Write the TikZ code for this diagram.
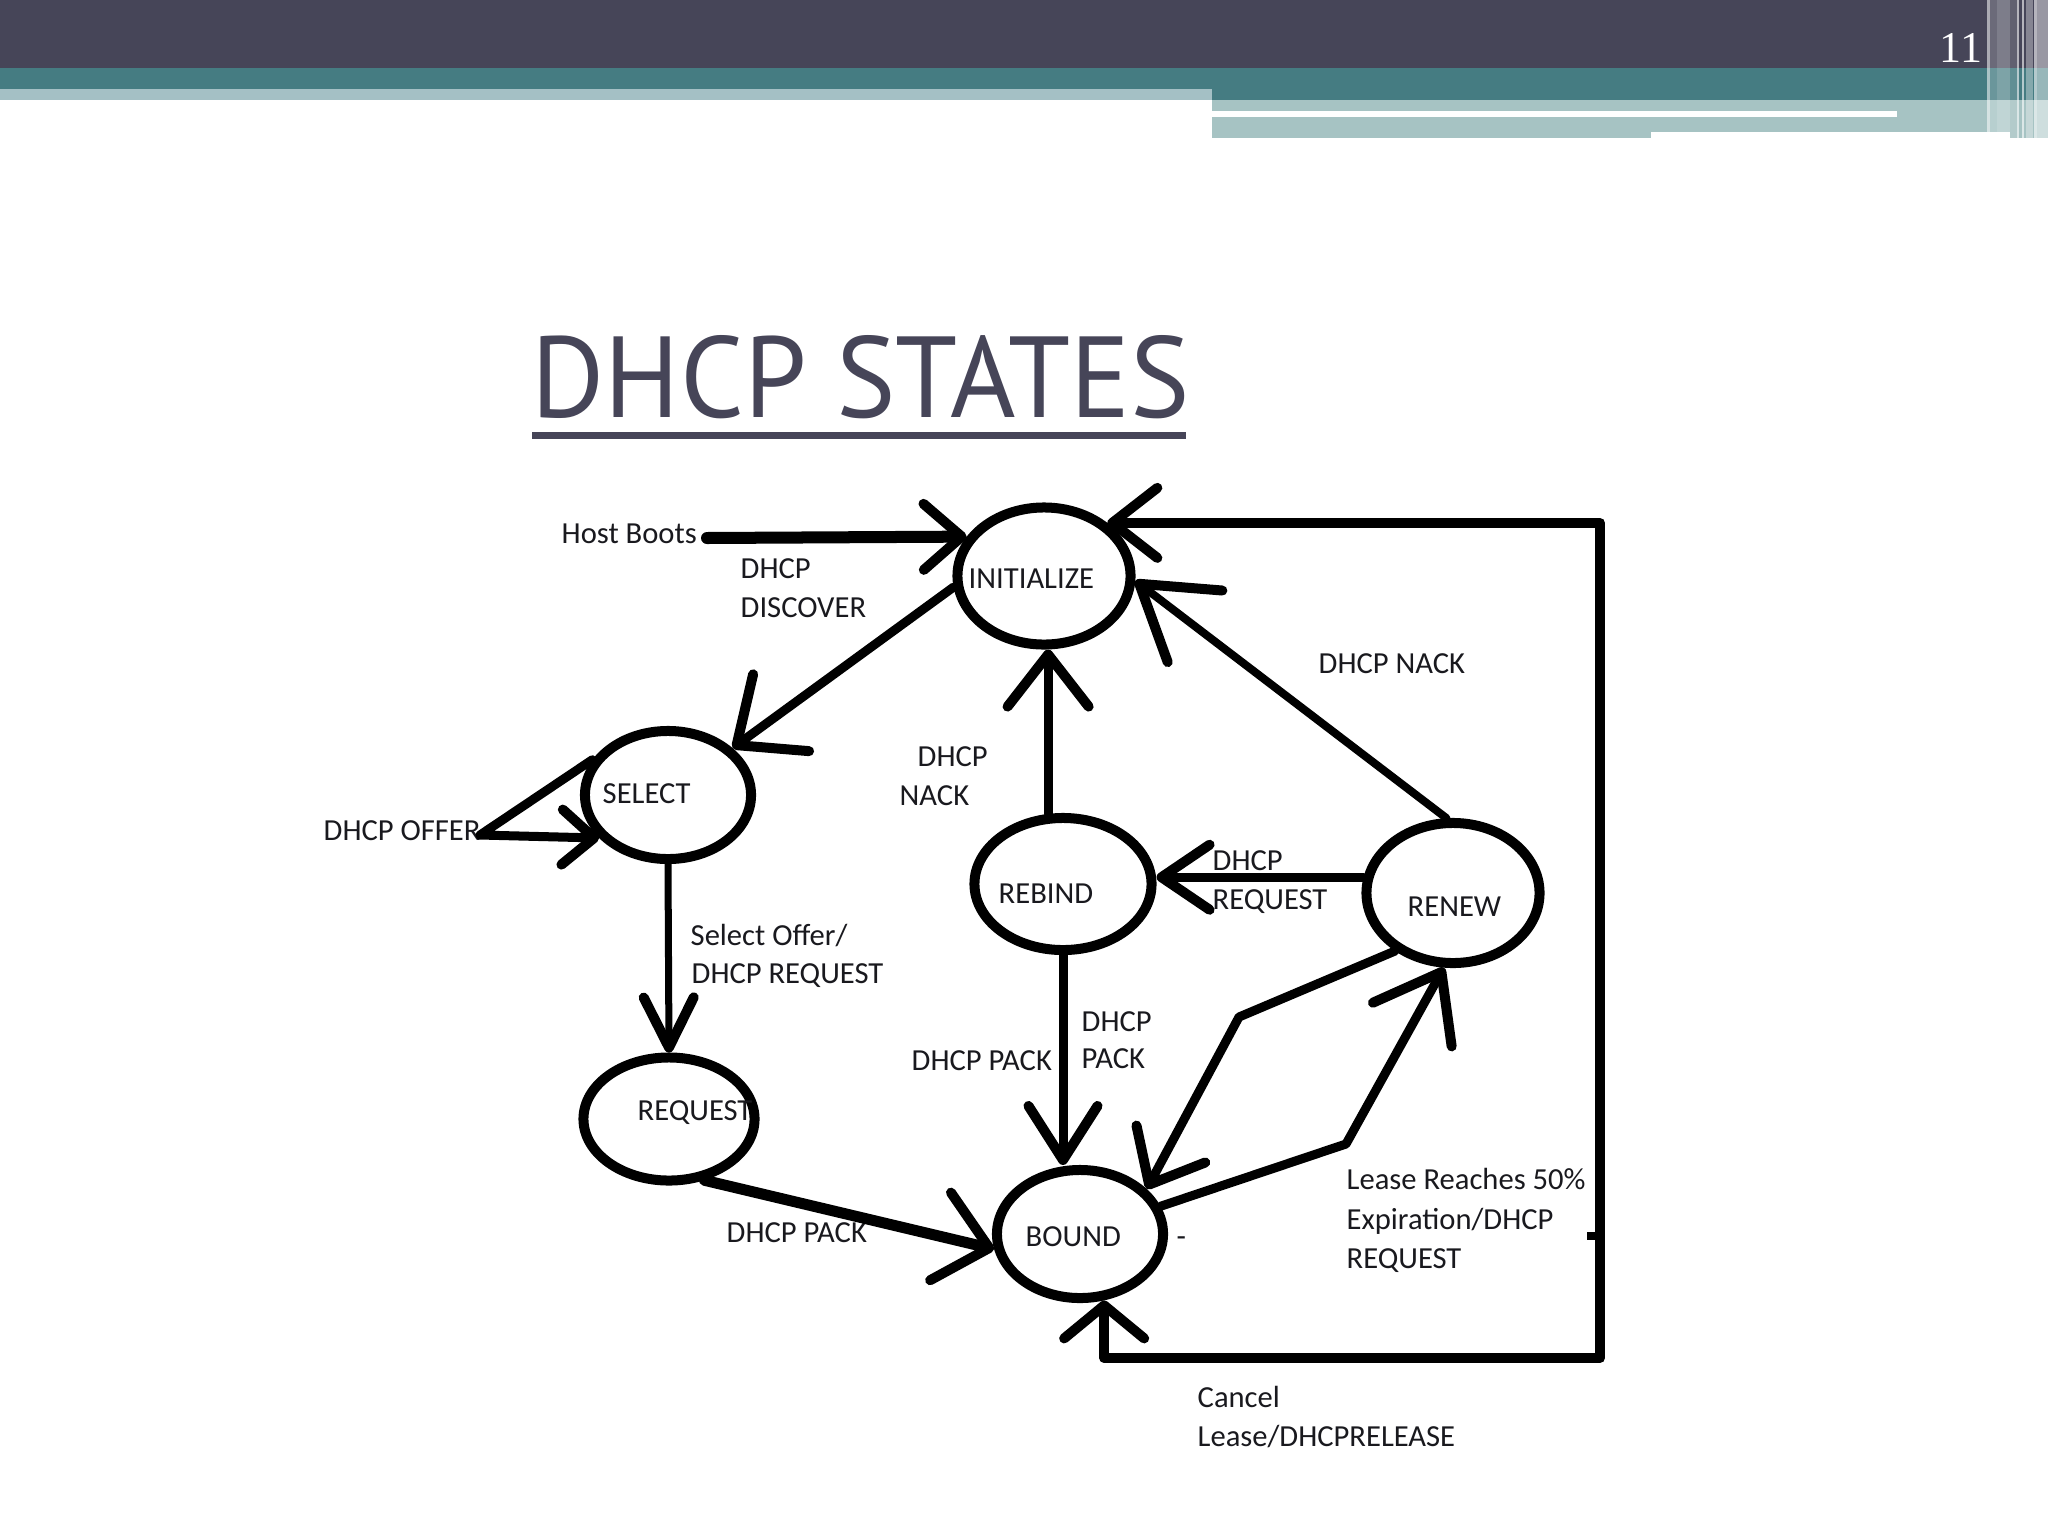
\documentclass[tikz,border=0pt]{standalone}
\usepackage{graphicx}
\usepackage{fontspec}
\newfontfamily\lblfont{Carlito}
\newfontfamily\titlefont{PT Sans}
\newfontfamily\numfont{Liberation Serif}
\usetikzlibrary{shapes.geometric,arrows.meta}
\definecolor{hdark}{RGB}{70,69,88}
\definecolor{hteal}{RGB}{69,124,130}
\definecolor{hlight}{RGB}{164,192,197}
\definecolor{hlightb}{RGB}{166,195,195}
\definecolor{txtc}{RGB}{25,25,30}
\begin{document}
\begin{tikzpicture}[x=0.01cm,y=-0.01cm,
  st/.style={ellipse, draw=black, line width=0.1cm, inner sep=0pt},
  lbl/.style={font=\lblfont\fontsize{8.7}{10.5}\selectfont, text=txtc, inner sep=0pt, anchor=base west},
  conn/.style={draw=black, line width=0.09cm, line cap=round, line join=round},
  arw/.style 2 args={-{Straight Barb[length=#1,width=#2,round,line width=0.1cm]}},
]
\useasboundingbox (0,0) rectangle (2048,1536);
\fill[white] (0,0) rectangle (2048,1536);
% header bands
\fill[hdark] (0,0) rectangle (2048,68);
\fill[hteal] (0,68) rectangle (2048,89);
\fill[hteal] (1212,89) rectangle (2048,100);
\fill[hlight] (0,89) rectangle (1212,100);
\fill[hlightb] (1212,100) rectangle (2048,138);
\fill[white] (1212,111) rectangle (1897,117);
\fill[white] (1651,132) rectangle (2010,138);
% right stripes
\fill[white,opacity=0.55] (1987,0) rectangle (1989.5,132);
\fill[white,opacity=0.2] (1990,0) rectangle (1997,132);
\fill[white,opacity=0.3] (1997,0) rectangle (2010,132);
\fill[white,opacity=0.15] (2010,0) rectangle (2017,138);
\fill[white,opacity=0.6] (2017,0) rectangle (2019,138);
\fill[white,opacity=0.6] (2022,0) rectangle (2024,138);
\fill[white,opacity=0.35] (2026,0) rectangle (2033,138);
\fill[white,opacity=0.6] (2034,0) rectangle (2037,138);
\fill[white,opacity=0.45] (2037,0) rectangle (2048,138);
\node[font=\numfont\fontsize{12.5}{14}\selectfont, text=white, anchor=base west, inner sep=0pt] (pnum) at (1939,62) {11};
% title
\node[anchor=base west, inner sep=0pt, text=hdark] (title) at (531,417) {\resizebox{6.58cm}{0.82cm}{\titlefont DHCP STATES}};
\fill[hdark] (532,432) rectangle (1186,439);

% states
\node[st, minimum width=1.73cm, minimum height=1.37cm] (init) at (1044,576) {};
\node[st, minimum width=1.66cm, minimum height=1.28cm] (select) at (668,795) {};
\node[st, minimum width=1.71cm, minimum height=1.23cm] (request) at (669,1119) {};
\node[st, minimum width=1.77cm, minimum height=1.32cm] (rebind) at (1063,884) {};
\node[st, minimum width=1.73cm, minimum height=1.40cm] (renew) at (1453,893) {};
\node[st, minimum width=1.66cm, minimum height=1.28cm] (bound) at (1080,1234) {};

% state labels
\node[lbl] (tinit) at (968,588) {INITIALIZE};
\node[lbl] (tselect) at (602,803) {SELECT};
\node[lbl] (trequest) at (637,1120) {REQUEST};
\node[lbl] (trebind) at (998,903) {REBIND};
\node[lbl] (trenew) at (1407,916) {RENEW};
\node[lbl] (tbound) at (1025,1246) {BOUND};

% transition labels
\node[lbl] (hb) at (561,543) {Host Boots};
\node[lbl] (disc1) at (740,578) {DHCP};
\node[lbl] (disc2) at (740,617) {DISCOVER};
\node[lbl] (offer) at (323,840) {DHCP OFFER};
\node[lbl] (so1) at (690,945) {Select Offer/};
\node[lbl] (so2) at (691,983) {DHCP REQUEST};
\node[lbl] (nackm1) at (917,766) {DHCP};
\node[lbl] (nackm2) at (899,805) {NACK};
\node[lbl] (nackr) at (1318,673) {DHCP NACK};
\node[lbl] (rq1) at (1212,870) {DHCP};
\node[lbl] (rq2) at (1212,909) {REQUEST};
\node[lbl] (pk1) at (1081,1031) {DHCP};
\node[lbl] (pk2) at (1081,1068) {PACK};
\node[lbl] (pkl) at (911,1070) {DHCP PACK};
\node[lbl] (pkb) at (726,1242) {DHCP PACK};
\node[lbl] (ls1) at (1346,1189) {Lease Reaches 50\%};
\node[lbl] (ls2) at (1346,1229) {Expiration/DHCP};
\node[lbl] (ls3) at (1346,1268) {REQUEST};
\node[lbl] (cl1) at (1197,1407) {Cancel};
\node[lbl] (cl2) at (1197,1446) {Lease/DHCPRELEASE};
\node[lbl] (dash) at (1176,1246) {-};

% coordinates
\coordinate (hbs) at (707,538);
\coordinate (offc) at (480,835);
\coordinate (lb) at (1239,1017);
\coordinate (rb) at (1346,1144);
\coordinate (cbr) at (1600,1358);

% connectors
\draw[conn, line width=0.12cm, arw={0.38cm}{0.66cm}] (hbs) -- (init.153);
\draw[conn, arw={0.55cm}{0.95cm}] (init.187) -- (select.36);
\draw[conn, line width=0.09cm, arw={0.32cm}{0.55cm}] (select.155) -- (offc) -- (select.212);
\draw[conn, line width=0.07cm, arw={0.5cm}{0.5cm}] (select.south) -- (request.north);
\draw[conn, line width=0.11cm, arw={0.5cm}{0.9cm}] (request.300) -- (bound.190);
\draw[conn, arw={0.52cm}{0.81cm}] (rebind.102) -- (rebind.102 |- init.south);
\draw[conn, line width=0.08cm, arw={0.7cm}{0.9cm}] (renew.95) -- (init.357);
\draw[conn, arw={0.48cm}{0.65cm}] (renew.170) -- (renew.170 -| rebind.east);
\draw[conn, arw={0.54cm}{0.69cm}] (rebind.south) -- (rebind.south |- bound.north);
\draw[conn, arw={0.46cm}{0.78cm}] (renew.225) -- (lb) -- (bound.34);
\draw[conn, arw={0.6cm}{0.9cm}] (bound.19) -- (rb) -- (renew.263);
\draw[conn, line width=0.1cm, line cap=butt, {Straight Barb[length=0.33cm,width=0.8cm,round,line width=0.1cm]}-{Straight Barb[length=0.45cm,width=0.7cm,round,line width=0.1cm]}] (bound.290) |- (cbr) |- (init.40);
\fill[black] (1587,1232) rectangle (1597,1240);
\end{tikzpicture}
\end{document}
